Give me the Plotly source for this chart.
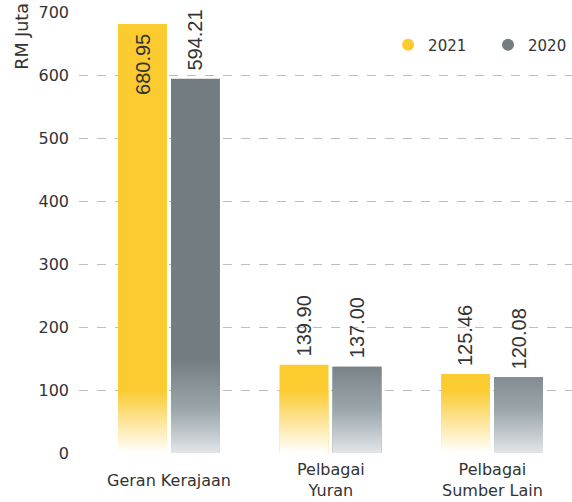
import plotly.graph_objects as go

# Revenue sources (RM million)
categories = ["Geran Kerajaan", "Pelbagai<br>Yuran", "Pelbagai<br>Sumber Lain"]
values_2021 = [680.95, 139.90, 125.46]
values_2020 = [594.21, 137.00, 120.08]
labels_2021 = ["680.95", "139.90", "125.46"]
labels_2020 = ["594.21", "137.00", "120.08"]
inside_2021 = [True, False, False]
inside_2020 = [False, False, False]
y_ticks = [0, 100, 200, 300, 400, 500, 600, 700]

YELLOW = "#FBCB30"
GREY = "#737C81"
TEXT = "#333333"
AXIS_FONT = "DejaVu Sans"
LABEL_FONT = "Liberation Sans"

BAR_W = 0.303
SHIFT = 0.164

pos = list(range(len(categories)))

fig = go.Figure()


def add_series(vals, labels, inside, shift, color, name, legend_id,
               grad_stop, grad_scale):
    xs = [p + shift for p in pos]
    fig.add_trace(go.Bar(
        x=xs, y=vals, width=BAR_W, marker=dict(color=color, line=dict(width=0)),
        showlegend=False, hoverinfo="skip",
    ))
    # faded lower part of each bar
    gx, gy = [], []
    for x, v in zip(xs, vals):
        top = min(v, grad_stop)
        l, r = x - BAR_W / 2, x + BAR_W / 2
        gx += [l, r, r, l, l, None]
        gy += [0, 0, top, top, 0, None]
    fig.add_trace(go.Scatter(
        x=gx, y=gy, mode="lines", fill="toself", line=dict(width=0),
        fillgradient=dict(type="vertical", colorscale=grad_scale, start=0, stop=grad_stop),
        showlegend=False, hoverinfo="skip",
    ))
    # value labels, rotated, at the bar tops
    for x, v, t, ins in zip(xs, vals, labels, inside):
        fig.add_annotation(
            x=x, y=v, text=t, textangle=-90, showarrow=False,
            xanchor="center", yanchor="top" if ins else "bottom",
            yshift=-8 if ins else 6,
            font=dict(family=LABEL_FONT, size=20, color=TEXT),
        )
    # legend entry with round marker
    fig.add_trace(go.Scatter(
        x=[None], y=[None], mode="markers", name=name, legend=legend_id,
        marker=dict(symbol="circle", size=16, color=color),
    ))


add_series(values_2021, labels_2021, inside_2021, -SHIFT, YELLOW, "2021", "legend",
           100, [[0, "#FFFFFF"], [0.5, "#FDE59A"], [1, YELLOW]])
add_series(values_2020, labels_2020, inside_2020, SHIFT, GREY, "2020", "legend2",
           150, [[0, "#E1E6E9"], [0.45, "#9CA7AC"], [1, GREY]])

# category labels, vertically centred under each group
for p, c in zip(pos, categories):
    fig.add_annotation(
        x=p, y=0, xref="x", yref="paper", text=c, showarrow=False,
        xanchor="center", yanchor="middle", yshift=-27,
        font=dict(family=AXIS_FONT, size=16, color=TEXT),
    )

fig.add_annotation(
    text="RM Juta", xref="paper", yref="paper", x=-0.115, y=1.025,
    xanchor="center", yanchor="top", textangle=-90, showarrow=False,
    font=dict(family=AXIS_FONT, size=17.5, color=TEXT),
)

legend_style = dict(
    orientation="h", y=0.925, yanchor="middle",
    font=dict(family=AXIS_FONT, size=15, color=TEXT),
    itemsizing="constant", bgcolor="rgba(0,0,0,0)",
)

fig.update_layout(
    width=572, height=502,
    margin=dict(l=79, r=0, t=12, b=49, autoexpand=False),
    paper_bgcolor="white", plot_bgcolor="white",
    barmode="overlay",
    font=dict(family=AXIS_FONT, color=TEXT),
    legend=dict(x=0.627, xanchor="left", **legend_style),
    legend2=dict(x=1.0, xanchor="right", **legend_style),
    xaxis=dict(
        range=[-0.557, 2.495], tickvals=pos, showticklabels=False,
        showgrid=False, zeroline=False, showline=False, ticks="",
    ),
    yaxis=dict(
        range=[0, 700], tickvals=y_ticks, showgrid=True,
        gridcolor="#BDBDBD", griddash="dash", gridwidth=1.3,
        zeroline=False, showline=False, ticks="",
        tickfont=dict(family=AXIS_FONT, size=16, color=TEXT),
        ticklabelstandoff=9,
    ),
)

fig.write_html("out.html")
